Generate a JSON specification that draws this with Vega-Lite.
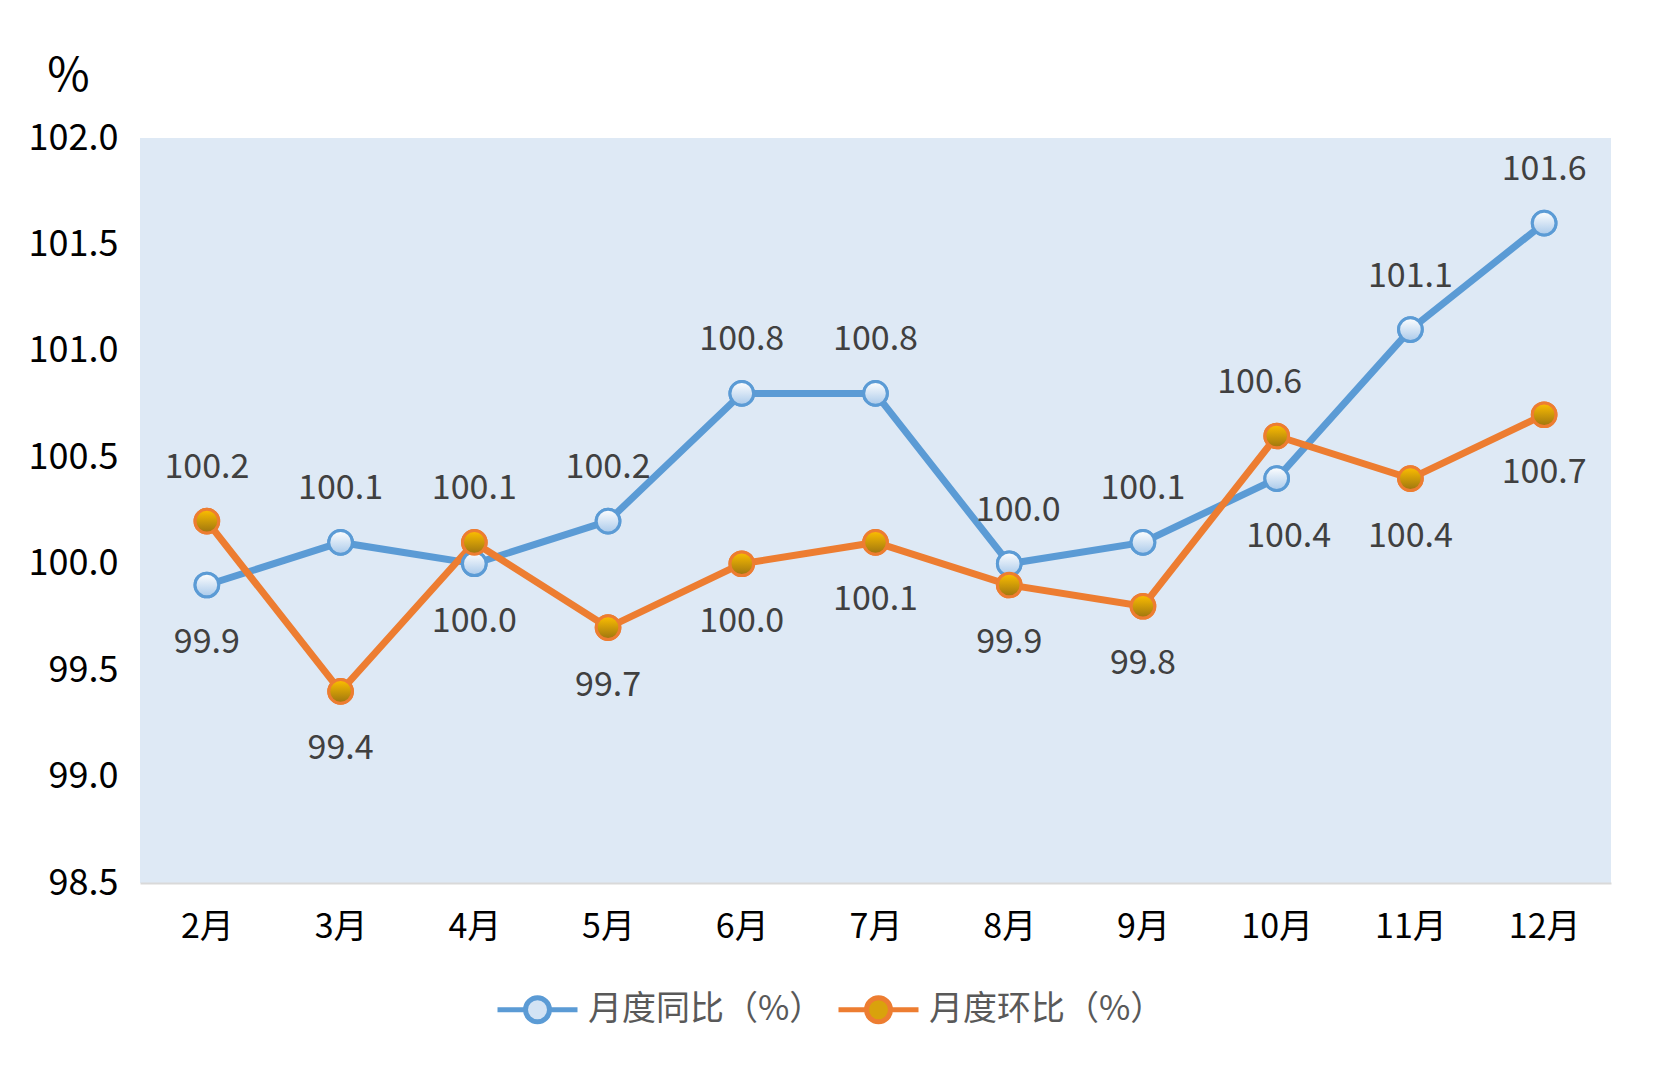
{
  "$schema": "https://vega.github.io/schema/vega-lite/v6.json",
  "autosize": {"type": "none"},
  "width": 1471,
  "height": 745,
  "padding": {"left": 140, "top": 138, "right": 44, "bottom": 185},
  "background": "white",
  "config": {
    "font": "Noto Sans CJK SC",
    "view": {"fill": "#DEE9F5", "stroke": null},
    "text": {"fontSize": 34, "color": "#404040", "baseline": "middle"},
    "legend": {
      "title": null,
      "orient": "none",
      "direction": "horizontal",
      "legendX": 355,
      "legendY": 829,
      "symbolType": "M-1,0H-0.3M0.3,0H1M0.3,0A0.3,0.3,0,1,1,-0.3,0A0.3,0.3,0,1,1,0.3,0Z",
      "symbolSize": 6400,
      "symbolStrokeWidth": 5,
      "labelFontSize": 34,
      "labelColor": "#595959",
      "labelLimit": 400,
      "labelOffset": 8,
      "columnPadding": 4
    }
  },
  "data": {
    "values": [
      {"month": "2月", "series": "月度同比（%）", "value": 99.9},
      {"month": "3月", "series": "月度同比（%）", "value": 100.1},
      {"month": "4月", "series": "月度同比（%）", "value": 100.0},
      {"month": "5月", "series": "月度同比（%）", "value": 100.2},
      {"month": "6月", "series": "月度同比（%）", "value": 100.8},
      {"month": "7月", "series": "月度同比（%）", "value": 100.8},
      {"month": "8月", "series": "月度同比（%）", "value": 100.0},
      {"month": "9月", "series": "月度同比（%）", "value": 100.1},
      {"month": "10月", "series": "月度同比（%）", "value": 100.4},
      {"month": "11月", "series": "月度同比（%）", "value": 101.1},
      {"month": "12月", "series": "月度同比（%）", "value": 101.6},
      {"month": "2月", "series": "月度环比（%）", "value": 100.2},
      {"month": "3月", "series": "月度环比（%）", "value": 99.4},
      {"month": "4月", "series": "月度环比（%）", "value": 100.1},
      {"month": "5月", "series": "月度环比（%）", "value": 99.7},
      {"month": "6月", "series": "月度环比（%）", "value": 100.0},
      {"month": "7月", "series": "月度环比（%）", "value": 100.1},
      {"month": "8月", "series": "月度环比（%）", "value": 99.9},
      {"month": "9月", "series": "月度环比（%）", "value": 99.8},
      {"month": "10月", "series": "月度环比（%）", "value": 100.6},
      {"month": "11月", "series": "月度环比（%）", "value": 100.4},
      {"month": "12月", "series": "月度环比（%）", "value": 100.7}
    ]
  },
  "transform": [
    {"calculate": "datum.series === '月度同比（%）' ? '同' : '环'", "as": "s"},
    {"calculate": "(datum.s === '同' && indexof(['2月','4月','10月'], datum.month) < 0) || (datum.s === '环' && indexof(['2月','4月','10月'], datum.month) >= 0)", "as": "above"}
  ],
  "encoding": {
    "x": {
      "field": "month",
      "type": "ordinal",
      "sort": null,
      "scale": {"type": "point", "padding": 0.5},
      "axis": {
        "title": null,
        "labelAngle": 0,
        "labelFontSize": 34,
        "labelColor": "#000000",
        "labelPadding": 27,
        "ticks": false,
        "domainColor": "#D9D9D9",
        "domainWidth": 2,
        "grid": false
      }
    },
    "y": {
      "field": "value",
      "type": "quantitative",
      "scale": {"domain": [98.5, 102], "nice": false, "zero": false},
      "axis": {
        "values": [98.5, 99, 99.5, 100, 100.5, 101, 101.5, 102],
        "format": ".1f",
        "title": "%",
        "titleAngle": 0,
        "titleX": -72,
        "titleY": -62,
        "titleAlign": "center",
        "titleBaseline": "middle",
        "titleFontSize": 46,
        "titleFontWeight": "normal",
        "titleColor": "#000000",
        "labelFontSize": 36,
        "labelColor": "#000000",
        "labelPadding": 22,
        "ticks": false,
        "domain": false,
        "grid": false
      }
    }
  },
  "layer": [
    {
      "mark": {"type": "line", "strokeWidth": 7},
      "encoding": {
        "stroke": {
          "field": "series",
          "type": "nominal",
          "scale": {"domain": ["月度同比（%）", "月度环比（%）"], "range": ["#5B9BD5", "#ED7D31"]}
        }
      }
    },
    {
      "mark": {"type": "point", "filled": true, "size": 560, "strokeWidth": 3, "opacity": 1},
      "encoding": {
        "stroke": {"field": "series", "type": "nominal"},
        "fill": {
          "field": "series",
          "type": "nominal",
          "scale": {"domain": ["月度同比（%）", "月度环比（%）"], "range": ["#D3E3F4", "#D9A20C"]}
        }
      }
    },
    {
      "mark": {"type": "point", "filled": true, "size": 560, "strokeWidth": 3, "opacity": 1},
      "encoding": {
        "stroke": {"field": "series", "type": "nominal"},
        "fill": {
          "condition": {
            "test": "datum.s === '同'",
            "value": {"gradient": "linear", "x1": 0, "y1": 0, "x2": 0, "y2": 1, "stops": [{"offset": 0, "color": "#FFFFFF"}, {"offset": 1, "color": "#A9C9EA"}]}
          },
          "value": {"gradient": "linear", "x1": 0, "y1": 0, "x2": 0, "y2": 1, "stops": [{"offset": 0, "color": "#FFC000"}, {"offset": 1, "color": "#9C7410"}]}
        }
      }
    },
    {
      "transform": [{"filter": "datum.above && !(datum.s === '同' && datum.month === '8月') && !(datum.s === '环' && datum.month === '10月')"}],
      "mark": {"type": "text", "dy": -53},
      "encoding": {"text": {"field": "value", "type": "quantitative", "format": ".1f"}}
    },
    {
      "transform": [{"filter": "datum.s === '同' && datum.month === '8月'"}],
      "mark": {"type": "text", "dy": -53, "dx": 9},
      "encoding": {"text": {"field": "value", "type": "quantitative", "format": ".1f"}}
    },
    {
      "transform": [{"filter": "datum.s === '环' && datum.month === '10月'"}],
      "mark": {"type": "text", "dy": -53, "dx": -17},
      "encoding": {"text": {"field": "value", "type": "quantitative", "format": ".1f"}}
    },
    {
      "transform": [{"filter": "!datum.above && !(datum.s === '同' && datum.month === '10月')"}],
      "mark": {"type": "text", "dy": 58},
      "encoding": {"text": {"field": "value", "type": "quantitative", "format": ".1f"}}
    },
    {
      "transform": [{"filter": "datum.s === '同' && datum.month === '10月'"}],
      "mark": {"type": "text", "dy": 58, "dx": 12},
      "encoding": {"text": {"field": "value", "type": "quantitative", "format": ".1f"}}
    }
  ]
}
